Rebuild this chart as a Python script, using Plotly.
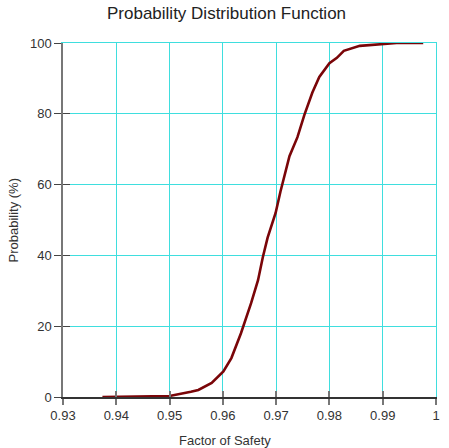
import plotly.graph_objects as go

# Cumulative distribution of factor of safety
factor_of_safety = [0.9374, 0.9471, 0.9500, 0.9540, 0.9554, 0.9579, 0.9601, 0.9616,
                    0.9634, 0.9653, 0.9666, 0.9675, 0.9684, 0.9699, 0.9708, 0.9725,
                    0.9740, 0.9753, 0.9768, 0.9781, 0.9790, 0.9800, 0.9814, 0.9827,
                    0.9857, 0.9902, 0.9926, 0.9976]
probability = [0.0, 0.1, 0.3, 1.5, 2.0, 4.0, 7.2, 11.0,
               18.0, 26.5, 33.0, 39.5, 45.0, 52.0, 58.0, 68.0,
               73.4, 79.7, 86.0, 90.4, 92.4, 94.3, 95.8, 97.8,
               99.2, 99.7, 100.0, 100.0]

x_ticks = [0.93, 0.94, 0.95, 0.96, 0.97, 0.98, 0.99, 1.0]
x_tick_labels = ["0.93", "0.94", "0.95", "0.96", "0.97", "0.98", "0.99", "1"]
y_ticks = [0, 20, 40, 60, 80, 100]

title_text = "Probability Distribution Function"
x_title = "Factor of Safety"
y_title = "Probability (%)"

FONT = "Liberation Sans, Arial, sans-serif"
GRID = "#3fdede"
CURVE = "#7a0508"

fig = go.Figure()
fig.add_trace(go.Scatter(x=factor_of_safety, y=probability, mode="lines",
                         line=dict(color=CURVE, width=2.6), showlegend=False,
                         hoverinfo="skip"))
# invisible copies on overlay axes, used only to draw inside tick marks / frame edges
fig.add_trace(go.Scatter(x=factor_of_safety, y=probability, mode="lines",
                         xaxis="x2", yaxis="y2",
                         line=dict(color="rgba(0,0,0,0)", width=0), showlegend=False,
                         hoverinfo="skip"))
fig.add_trace(go.Scatter(x=factor_of_safety, y=probability, mode="lines",
                         xaxis="x3", yaxis="y3",
                         line=dict(color="rgba(0,0,0,0)", width=0), showlegend=False,
                         hoverinfo="skip"))

fig.update_layout(
    width=449, height=448,
    margin=dict(l=63, r=9, t=43, b=51),
    paper_bgcolor="white", plot_bgcolor="white",
    font=dict(family=FONT, size=13, color="#333333"),
    xaxis=dict(range=[0.93, 1.0], tickvals=x_ticks, ticktext=x_tick_labels,
               showgrid=True, gridcolor=GRID, gridwidth=1,
               showline=True, linecolor="#333333", linewidth=1.5,
               ticks="outside", ticklen=6, tickcolor="#777777", tickwidth=1.5,
               zeroline=False, tickfont=dict(size=13, color="#333333"),
               fixedrange=True),
    yaxis=dict(range=[0, 100], tickvals=y_ticks,
               showgrid=True, gridcolor=GRID, gridwidth=1,
               showline=True, linecolor="#777777", linewidth=1.5,
               ticks="outside", ticklen=7, tickcolor="#444444", tickwidth=1.2,
               zeroline=False, tickfont=dict(size=13, color="#333333"),
               fixedrange=True),
    xaxis2=dict(overlaying="x", matches="x", range=[0.93, 1.0], tickvals=x_ticks,
                showticklabels=False, showgrid=False, showline=False,
                ticks="inside", ticklen=6, tickcolor="#777777", tickwidth=1.5,
                zeroline=False, side="bottom", anchor="y2"),
    yaxis2=dict(overlaying="y", matches="y", range=[0, 100], tickvals=y_ticks,
                showticklabels=False, showgrid=False, showline=False,
                ticks="inside", ticklen=7, tickcolor="#444444", tickwidth=1.2,
                zeroline=False, side="left", anchor="x2"),
    xaxis3=dict(overlaying="x", matches="x", range=[0.93, 1.0],
                showticklabels=False, showgrid=False, ticks="",
                showline=True, linecolor=GRID, linewidth=1,
                zeroline=False, side="top", anchor="y3"),
    yaxis3=dict(overlaying="y", matches="y", range=[0, 100],
                showticklabels=False, showgrid=False, ticks="",
                showline=True, linecolor=GRID, linewidth=1,
                zeroline=False, side="right", anchor="x3"),
    annotations=[
        dict(text=title_text, xref="paper", yref="paper", x=(228 - 63) / 377,
             y=1 + (43 - 13) / 354, xanchor="center", yanchor="middle",
             showarrow=False, font=dict(size=17, color="#222222", family=FONT)),
        dict(text=x_title, xref="paper", yref="paper", x=(227 - 63) / 377,
             y=-(440 - 397) / 354, xanchor="center", yanchor="middle",
             showarrow=False, font=dict(size=13, color="#333333", family=FONT)),
        dict(text=y_title, xref="paper", yref="paper", x=-(63 - 12) / 377,
             y=(397 - 220) / 354, xanchor="center", yanchor="middle", textangle=-90,
             showarrow=False, font=dict(size=13, color="#333333", family=FONT)),
    ],
)

fig.write_html("out.html")
